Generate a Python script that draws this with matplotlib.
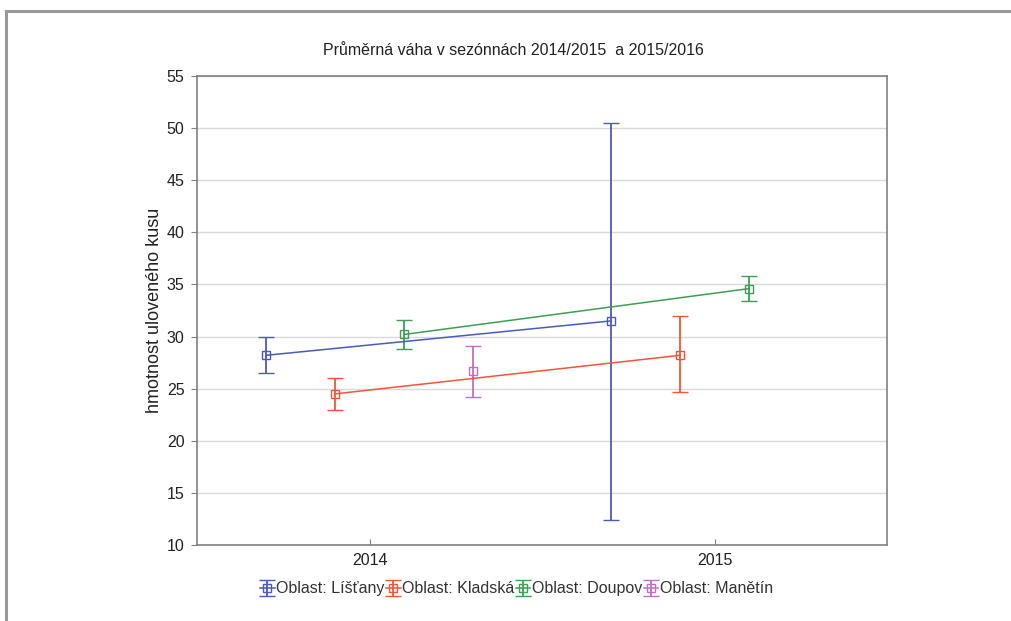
import matplotlib
matplotlib.use("Agg")
import matplotlib.pyplot as plt
from matplotlib.lines import Line2D

plt.rcParams["font.family"] = ["Liberation Sans", "DejaVu Sans"]

# mean weight per season with confidence bounds
years = [2014, 2015]

listany_mean = [28.2, 31.5]
listany_lo = [26.5, 12.4]
listany_hi = [30.0, 50.5]

kladska_mean = [24.5, 28.2]
kladska_lo = [23.0, 24.7]
kladska_hi = [26.0, 32.0]

doupov_mean = [30.2, 34.6]
doupov_lo = [28.8, 33.4]
doupov_hi = [31.6, 35.8]

manetin_years = [2014]
manetin_mean = [26.7]
manetin_lo = [24.2]
manetin_hi = [29.1]

series = [
    ("Oblast: Líšťany", years, listany_mean, listany_lo, listany_hi, "#4b5bb8", -0.3),
    ("Oblast: Kladská", years, kladska_mean, kladska_lo, kladska_hi, "#f2553a", -0.1),
    ("Oblast: Doupov", years, doupov_mean, doupov_lo, doupov_hi, "#3f9e55", 0.1),
    ("Oblast: Manětín", manetin_years, manetin_mean, manetin_lo, manetin_hi, "#c070c0", 0.3),
]

fig = plt.figure(figsize=(10.11, 6.21), dpi=100)
ax = fig.add_axes([0.1949, 0.1224, 0.6825, 0.7552])

for label, xs, mean, lo, hi, color, off in series:
    x = [v + off for v in xs]
    yerr = [[m - l for m, l in zip(mean, lo)], [h - m for m, h in zip(mean, hi)]]
    ax.errorbar(x, mean, yerr=yerr, color=color, lw=1.1, elinewidth=1.3,
                capsize=6, capthick=1.3, marker="s", ms=6, mfc="none",
                mec=color, mew=1.0, label=label, zorder=3)

ax.set_xlim(2013.5, 2015.5)
ax.set_ylim(10, 55)
ax.set_xticks(years)
ax.set_xticklabels([str(y) for y in years])
ax.set_yticks(range(10, 56, 5))
ax.grid(axis="y", color="#d9d9d9", lw=1.0, zorder=0)
ax.set_axisbelow(True)
for s in ax.spines.values():
    s.set_color("#808080")
    s.set_linewidth(1.2)
ax.tick_params(axis="x", direction="in", length=4, color="#808080",
               labelsize=11.5, pad=6, labelcolor="#222222")
ax.tick_params(axis="y", direction="out", length=4, color="#808080",
               labelsize=11.5, pad=5, labelcolor="#222222")
ax.set_ylabel("hmotnost uloveného kusu", fontsize=13, color="#222222", labelpad=3)

fig.text(0.508, 0.919, "Průměrná váha v sezónnách 2014/2015  a 2015/2016",
         ha="center", va="center", fontsize=11.5, color="#222222")

fig.legend(loc="center", bbox_to_anchor=(0.511, 0.052), ncol=4, frameon=False,
           fontsize=11.5, handlelength=0.9, handletextpad=0.1, columnspacing=0.1,
           labelcolor="#333333")

# page frame: top and left edges only
fig.add_artist(Line2D([0.006, 1.0], [0.982, 0.982], transform=fig.transFigure,
                      color="#999999", lw=2.2))
fig.add_artist(Line2D([0.006, 0.006], [0.0, 0.982], transform=fig.transFigure,
                      color="#999999", lw=2.2))

fig.savefig("out.png", dpi=100)
